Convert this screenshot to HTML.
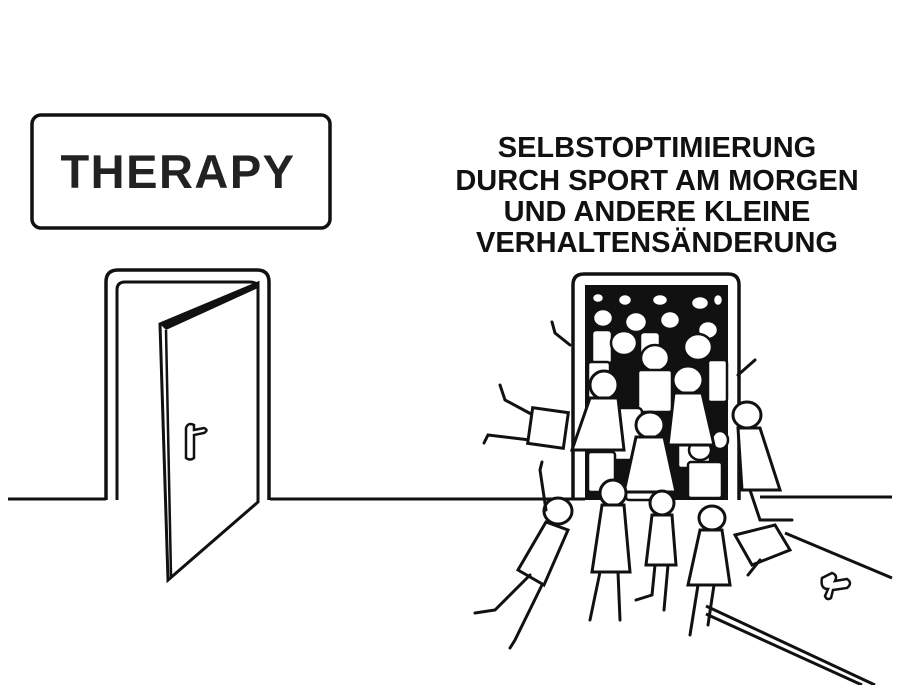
<!DOCTYPE html>
<html><head><style>html,body{margin:0;padding:0;background:#fff}svg{display:block}</style></head>
<body>
<svg width="900" height="685" viewBox="0 0 900 685" xmlns="http://www.w3.org/2000/svg" font-family="Liberation Sans, sans-serif">
<rect width="900" height="685" fill="#fff"/>
<rect x="32" y="115" width="298" height="113" rx="9" fill="#fff" stroke="#111" stroke-width="3.5"/>
<text x="178" y="188" font-size="47" font-weight="bold" text-anchor="middle" fill="#222" letter-spacing="1.5">THERAPY</text>
<g font-size="29" font-weight="bold" text-anchor="middle" fill="#111">
<text x="657" y="157">SELBSTOPTIMIERUNG</text>
<text x="657" y="190">DURCH SPORT AM MORGEN</text>
<text x="657" y="221">UND ANDERE KLEINE</text>
<text x="657" y="252">VERHALTENSÄNDERUNG</text>
</g>
<line x1="8" y1="499" x2="106" y2="499" stroke="#111" stroke-width="3"/>
<line x1="270" y1="499" x2="585" y2="499" stroke="#111" stroke-width="3"/>
<line x1="760" y1="497" x2="892" y2="497" stroke="#111" stroke-width="3"/>
<path d="M106 500 V282 Q106 270 118 270 H257 Q269 270 269 282 V500" fill="none" stroke="#111" stroke-width="3.5"/>
<path d="M117 500 V290 Q117 282 125 282 H250 Q258 282 258 290 V500" fill="none" stroke="#111" stroke-width="3"/>
<polygon points="160,324 258,283 258,502 168,580" fill="#fff" stroke="#111" stroke-width="3"/>
<polygon points="160,324 258,283 258,288 166,330" fill="#111"/>
<line x1="166" y1="330" x2="171" y2="576" stroke="#111" stroke-width="2.5"/>
<path d="M186 428 q2 -6 8 -3 l0 5 l10 -2 q5 2 0 5 l-10 2 v23 q-4 3 -8 0 z" fill="none" stroke="#111" stroke-width="2.5"/>
<path d="M573 500 V285 Q573 274 584 274 H728 Q739 274 739 285 V500" fill="none" stroke="#111" stroke-width="3.5"/>
<rect x="585" y="285" width="143" height="215" fill="#111"/>
<line x1="785" y1="533" x2="892" y2="578" stroke="#111" stroke-width="3"/>
<line x1="706" y1="606" x2="875" y2="685" stroke="#111" stroke-width="3"/>
<line x1="706" y1="614" x2="862" y2="685" stroke="#111" stroke-width="3"/>
<path d="M822 578 l10 -5 q6 2 3 8 l12 -2 q6 4 0 9 l-14 2 l-2 8 q-4 3 -6 -2 l3 -7 q-8 0 -6 -11z" fill="none" stroke="#111" stroke-width="2.5"/>
<g fill="#fff" stroke="#111" stroke-width="2.5">
<ellipse cx="598" cy="298" rx="6" ry="5"/><ellipse cx="625" cy="300" rx="7" ry="6"/><ellipse cx="660" cy="300" rx="8" ry="6"/><ellipse cx="700" cy="303" rx="9" ry="7"/><ellipse cx="718" cy="300" rx="5" ry="6"/>
<ellipse cx="603" cy="318" rx="10" ry="9"/><ellipse cx="636" cy="322" rx="11" ry="10"/><ellipse cx="670" cy="320" rx="10" ry="9"/><ellipse cx="708" cy="330" rx="10" ry="9"/>
<rect x="592" y="330" width="20" height="34" rx="4"/><ellipse cx="624" cy="343" rx="13" ry="12"/><rect x="640" y="332" width="20" height="30" rx="4"/><ellipse cx="698" cy="347" rx="14" ry="13"/>
<ellipse cx="655" cy="358" rx="14" ry="13"/><rect x="638" y="370" width="34" height="42" rx="3"/><rect x="588" y="362" width="22" height="40" rx="3"/><rect x="708" y="360" width="19" height="42" rx="3"/>
<rect x="612" y="408" width="30" height="52" rx="4"/><rect x="678" y="418" width="32" height="50" rx="3"/><ellipse cx="700" cy="450" rx="11" ry="10"/>
<rect x="588" y="452" width="27" height="40" rx="3"/><rect x="626" y="468" width="32" height="32" rx="3"/><rect x="688" y="462" width="34" height="36" rx="3"/>
<ellipse cx="720" cy="440" rx="8" ry="9"/><rect x="590" y="405" width="18" height="40" rx="3"/>
</g>
<g fill="#fff" stroke="#111" stroke-width="3" stroke-linecap="round">
<polyline points="533,415 505,400 500,385" fill="none"/><polyline points="530,440 488,435 484,443" fill="none"/>
<rect x="530" y="410" width="36" height="36" transform="rotate(8 548 428)"/>
<polyline points="570,345 555,333 552,322" fill="none"/>
<ellipse cx="604" cy="385" rx="14" ry="14"/>
<polygon points="590,398 618,398 624,450 572,450"/>
<ellipse cx="688" cy="380" rx="15" ry="14"/>
<polygon points="674,393 702,393 714,445 668,445"/>
<ellipse cx="650" cy="425" rx="14" ry="13"/>
<polygon points="636,437 664,437 676,492 624,492"/>
<ellipse cx="747" cy="415" rx="14" ry="13"/>
<polygon points="738,428 760,428 780,490 742,490"/>
<polyline points="750,490 760,520 792,520" fill="none"/><polyline points="738,375 755,360" fill="none"/>
<ellipse cx="558" cy="511" rx="14" ry="13"/>
<polygon points="546,522 568,530 544,585 518,570"/>
<polyline points="530,575 495,610 475,613" fill="none"/><polyline points="542,585 515,640 510,648" fill="none"/>
<polyline points="546,510 540,470 542,462" fill="none"/>
<ellipse cx="613" cy="493" rx="13" ry="13"/>
<polygon points="602,505 624,505 630,572 592,572"/>
<line x1="600" y1="572" x2="590" y2="620"/><line x1="618" y1="572" x2="620" y2="620"/>
<ellipse cx="662" cy="503" rx="12" ry="12"/>
<polygon points="652,515 672,515 676,565 646,565"/>
<polyline points="655,565 652,595 636,600" fill="none"/><line x1="668" y1="565" x2="664" y2="610"/>
<ellipse cx="712" cy="518" rx="13" ry="12"/>
<polygon points="700,530 722,530 730,585 688,585"/>
<line x1="698" y1="585" x2="690" y2="635"/><line x1="714" y1="585" x2="708" y2="625"/>
<polygon points="735,535 775,525 790,550 752,565" />
<polyline points="760,560 748,575" fill="none"/>
</g>
</svg>
</body></html>
